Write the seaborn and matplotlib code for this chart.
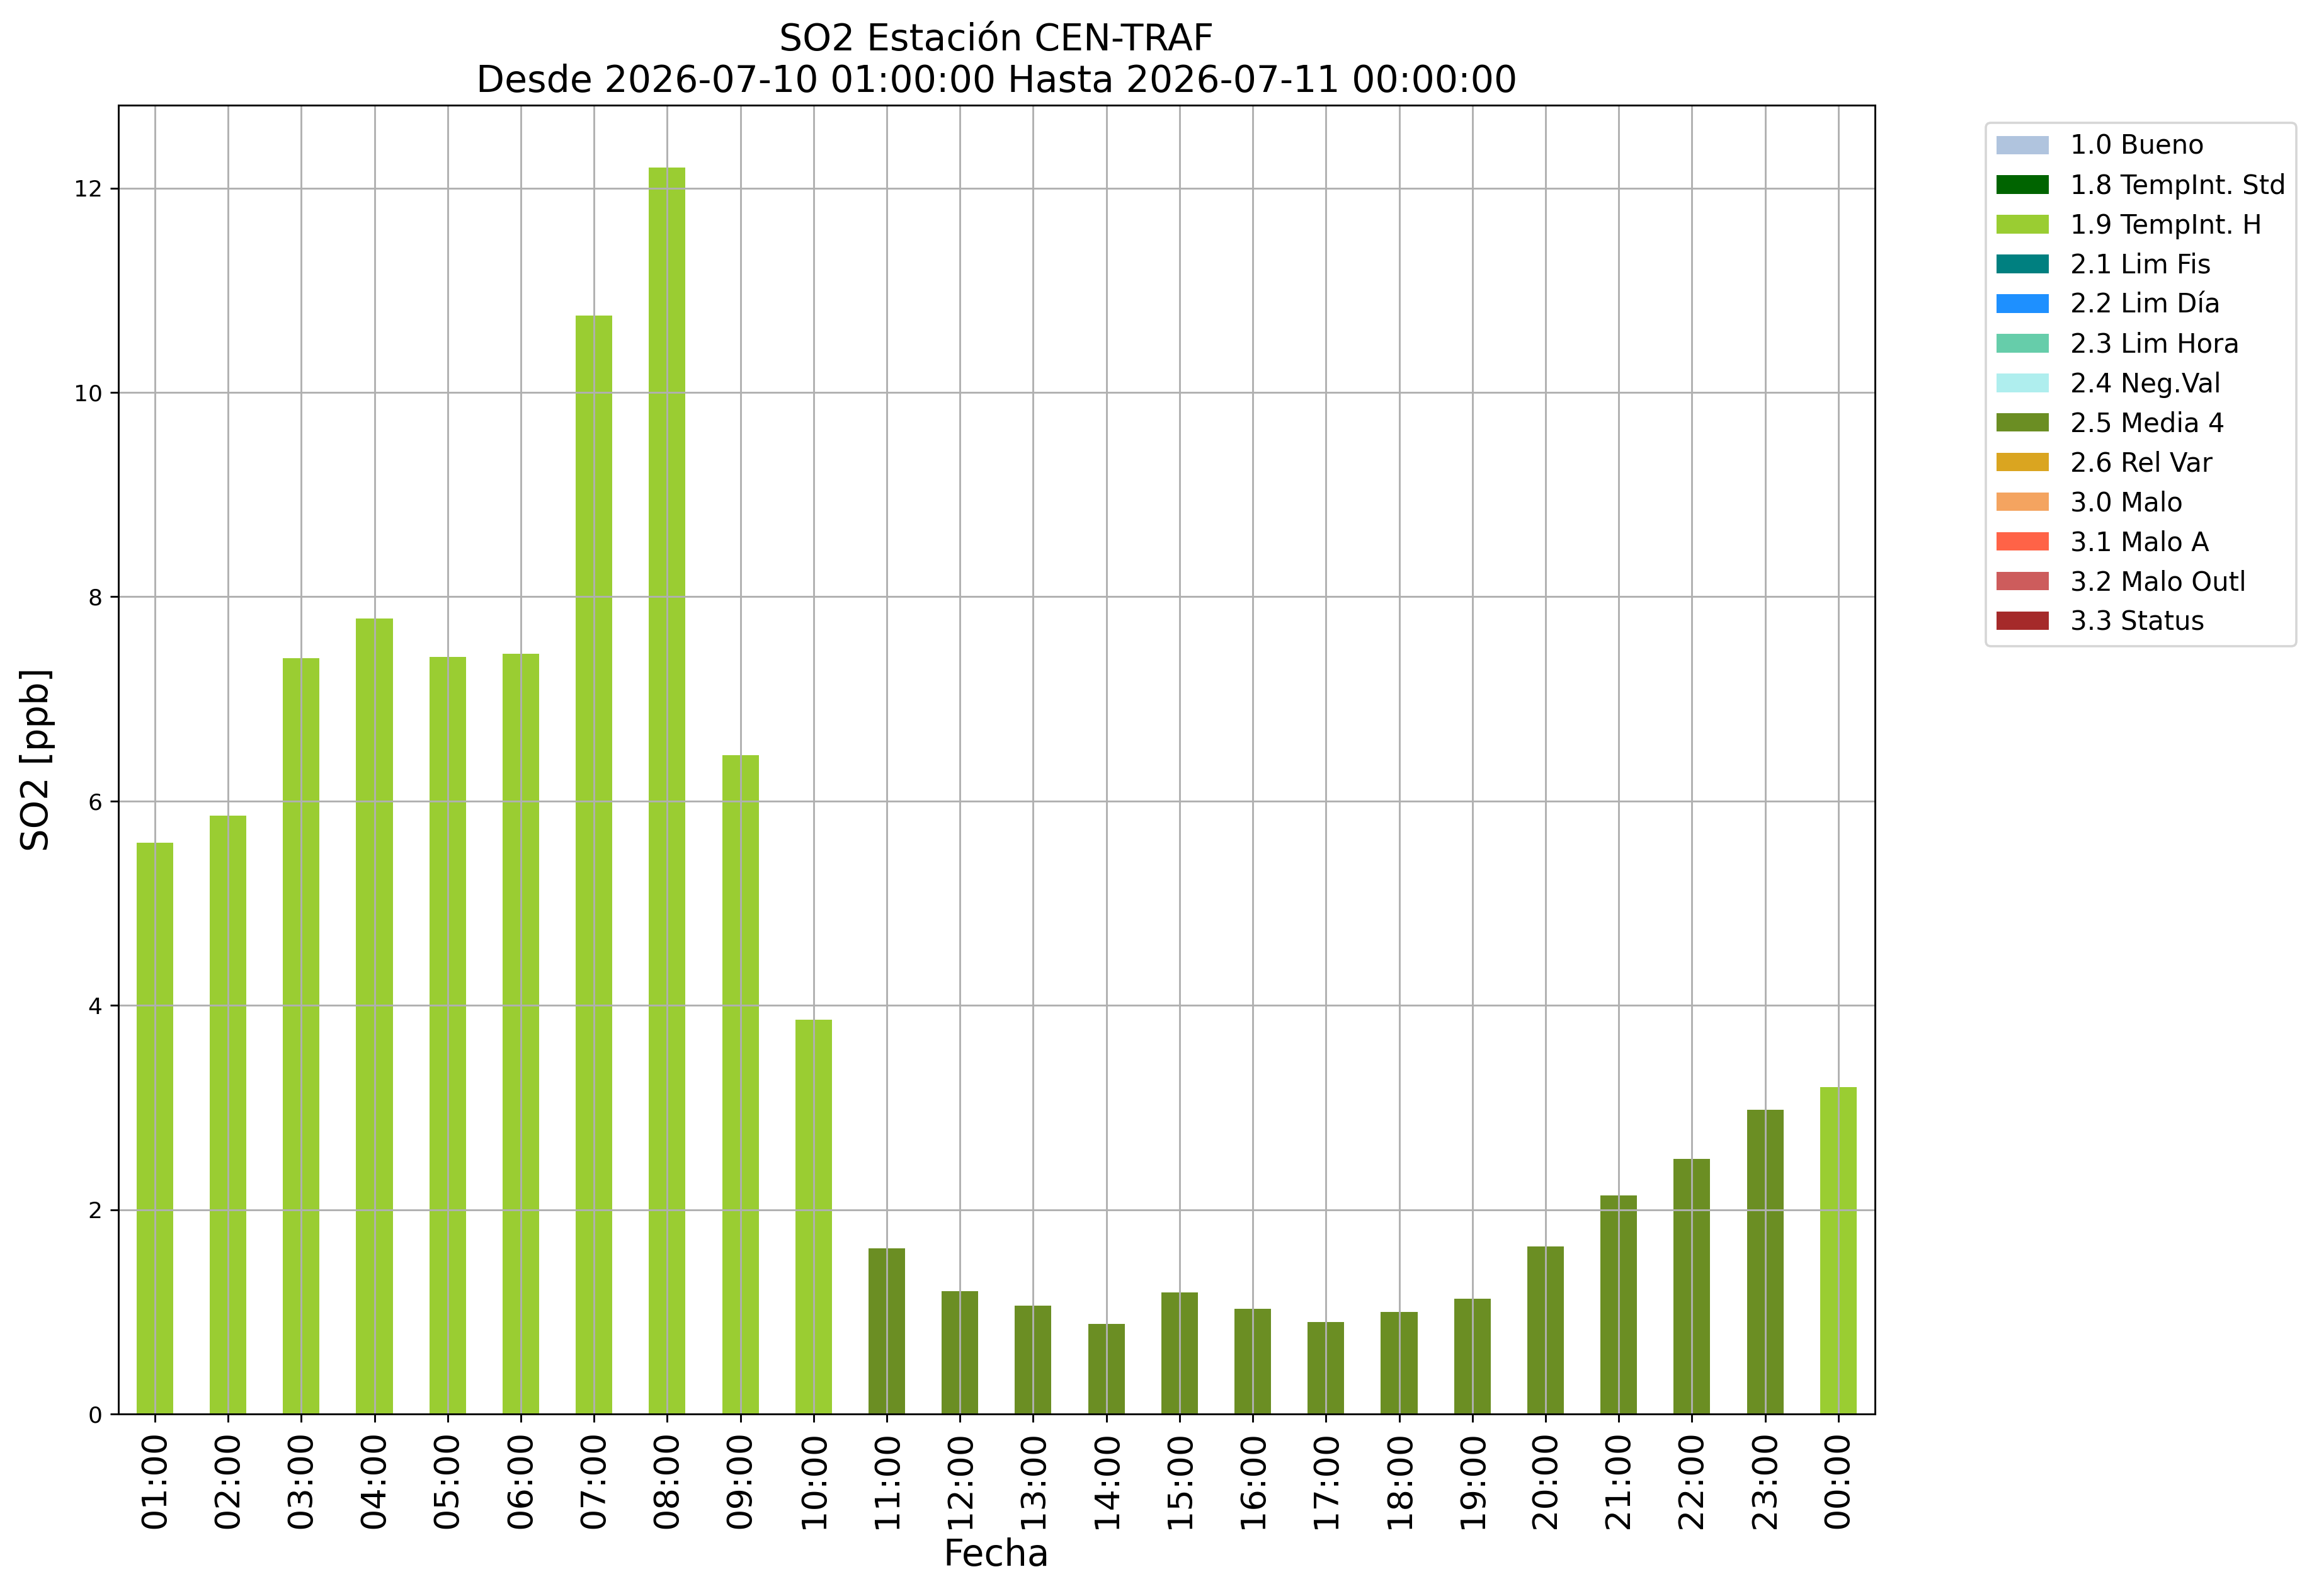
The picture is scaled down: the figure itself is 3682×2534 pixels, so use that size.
import matplotlib
matplotlib.use("Agg")
import matplotlib.pyplot as plt
from matplotlib.patches import Patch
import seaborn as sns
import pandas as pd

# --- datos ---
horas = ["01:00", "02:00", "03:00", "04:00", "05:00", "06:00", "07:00", "08:00",
         "09:00", "10:00", "11:00", "12:00", "13:00", "14:00", "15:00", "16:00",
         "17:00", "18:00", "19:00", "20:00", "21:00", "22:00", "23:00", "00:00"]
so2 = [5.59, 5.86, 7.40, 7.79, 7.41, 7.44, 10.75, 12.20,
       6.45, 3.86, 1.62, 1.20, 1.06, 0.88, 1.19, 1.03,
       0.90, 1.00, 1.13, 1.64, 2.14, 2.50, 2.98, 3.20]
flags = ["1.9 TempInt. H"] * 10 + ["2.5 Media 4"] * 13 + ["1.9 TempInt. H"]

flag_labels = ["1.0 Bueno", "1.8 TempInt. Std", "1.9 TempInt. H", "2.1 Lim Fis",
               "2.2 Lim Día", "2.3 Lim Hora", "2.4 Neg.Val", "2.5 Media 4",
               "2.6 Rel Var", "3.0 Malo", "3.1 Malo A", "3.2 Malo Outl", "3.3 Status"]
flag_colors = ["lightsteelblue", "darkgreen", "yellowgreen", "teal",
               "dodgerblue", "mediumaquamarine", "paleturquoise", "olivedrab",
               "goldenrod", "sandybrown", "tomato", "indianred", "brown"]

df = pd.DataFrame({"Fecha": horas, "SO2": so2, "Flag": flags})
palette = dict(zip(flag_labels, flag_colors))

fig = plt.figure(figsize=(3682 / 260, 2534 / 260), dpi=260)
ax = fig.add_axes([0.051, 0.114, 0.7575, 0.820])

sns.barplot(data=df, x="Fecha", y="SO2", hue="Flag", palette=palette,
            order=horas, dodge=False, width=0.5, saturation=1,
            legend=False, ax=ax)

# la rejilla va encima de las barras
ax.set_axisbelow("line")
ax.grid(True, color="#b0b0b0", linewidth=0.8)
ax.set_xlim(-0.5, len(horas) - 0.5)
ax.set_ylim(0, max(so2) * 1.05)
ax.set_yticks([0, 2, 4, 6, 8, 10, 12])
ax.tick_params(axis="y", labelsize=10)
ax.tick_params(axis="x", labelsize=15, labelrotation=90)

ax.set_xlabel("Fecha", fontsize=16)
ax.set_ylabel("SO2 [ppb]", fontsize=16, labelpad=8)
ax.set_title("SO2 Estación CEN-TRAF\nDesde 2026-07-10 01:00:00 Hasta 2026-07-11 00:00:00",
             fontsize=16.2)

handles = [Patch(facecolor=c, label=l) for l, c in zip(flag_labels, flag_colors)]
fig.legend(handles=handles, loc="upper left", bbox_to_anchor=(0.8563, 0.923),
           fontsize=11.6, borderaxespad=0)

fig.savefig("out.png", dpi=260)
plt.close(fig)
